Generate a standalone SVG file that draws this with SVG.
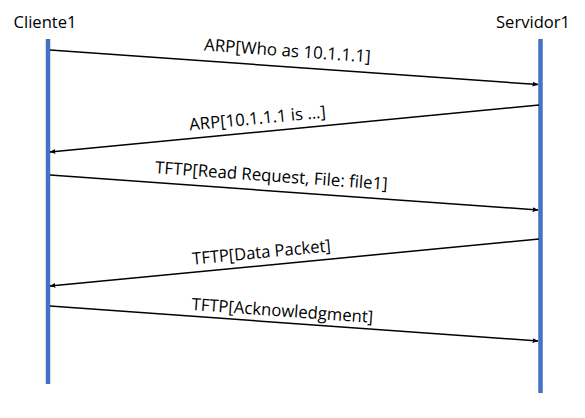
<svg xmlns="http://www.w3.org/2000/svg" width="585" height="418" viewBox="0 0 585 418">
<style>
.t{font-family:"Open Sans","Liberation Sans",sans-serif;font-size:17px;fill:#000}
.ll{stroke:#4472C4;stroke-width:4.5;fill:none}
.c{stroke:#000;stroke-width:1.5;fill:none;marker-end:url(#ah)}
</style>
<defs>
<marker id="ah" viewBox="0 0 10 10" refX="9" refY="5" markerWidth="6" markerHeight="6" markerUnits="userSpaceOnUse" orient="auto">
<path d="M0,1 L10,5 L0,9 z" fill="#000"/>
</marker>
</defs>
<rect width="585" height="418" fill="#fff"/>
<g id="cliente1">
<text class="t" x="45" y="28" text-anchor="middle" textLength="63" lengthAdjust="spacingAndGlyphs">Cliente1</text>
<line class="ll" x1="48" y1="39" x2="48" y2="384"/>
</g>
<g id="servidor1">
<text class="t" x="533" y="28" text-anchor="middle" textLength="74" lengthAdjust="spacingAndGlyphs">Servidor1</text>
<line class="ll" x1="540.5" y1="39" x2="540.5" y2="393"/>
</g>
<g id="connectors">
<line class="c" x1="50" y1="50" x2="538" y2="84.5"/>
<line class="c" x1="539" y1="105" x2="50" y2="152"/>
<line class="c" x1="50" y1="175" x2="538" y2="210"/>
<line class="c" x1="539" y1="239" x2="50" y2="286"/>
<line class="c" x1="50" y1="306" x2="538" y2="341"/>
<text class="t" transform="translate(287,56.5) rotate(4.05)" text-anchor="middle" textLength="167" lengthAdjust="spacingAndGlyphs">ARP[Who as 10.1.1.1]</text>
<text class="t" transform="translate(258,124) rotate(-5.5)" text-anchor="middle" textLength="137" lengthAdjust="spacingAndGlyphs">ARP[10.1.1.1 is …]</text>
<text class="t" transform="translate(271,181.5) rotate(4.05)" text-anchor="middle" textLength="233" lengthAdjust="spacingAndGlyphs">TFTP[Read Request, File: file1]</text>
<text class="t" transform="translate(262,258) rotate(-5.5)" text-anchor="middle" textLength="139" lengthAdjust="spacingAndGlyphs">TFTP[Data Packet]</text>
<text class="t" transform="translate(282,316.5) rotate(4.05)" text-anchor="middle" textLength="182" lengthAdjust="spacingAndGlyphs">TFTP[Acknowledgment]</text>
</g>
</svg>
